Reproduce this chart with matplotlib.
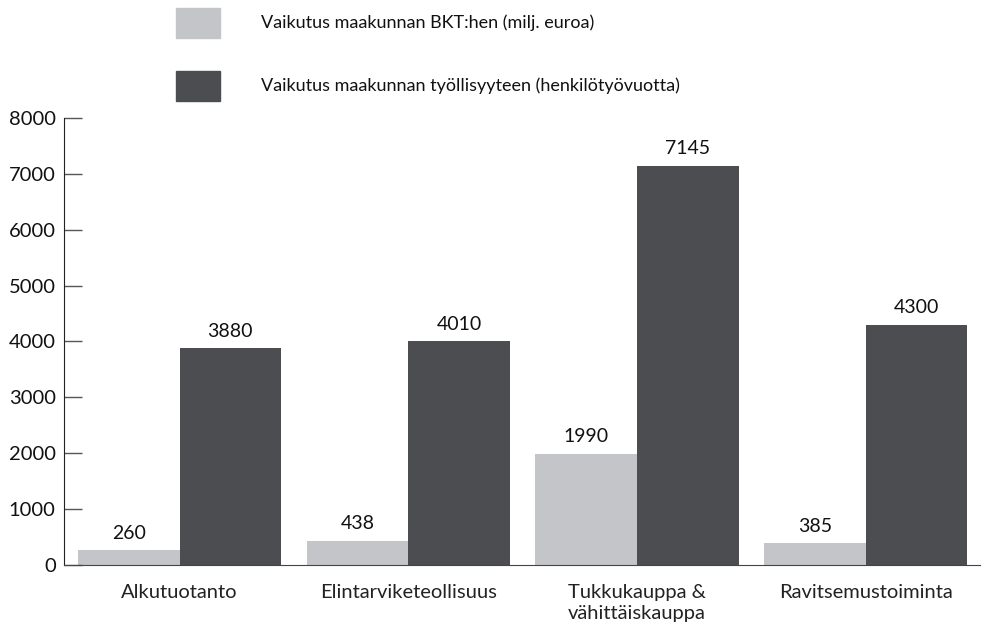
import matplotlib
matplotlib.use("Agg")
import matplotlib.pyplot as plt
import numpy as np
from matplotlib.patches import Rectangle

categories = ["Alkutuotanto", "Elintarviketeollisuus", "Tukkukauppa &\nvähittäiskauppa", "Ravitsemustoiminta"]
bkt = [260, 438, 1990, 385]
tyollisyys = [3880, 4010, 7145, 4300]
series_names = ["Vaikutus maakunnan BKT:hen (milj. euroa)",
                "Vaikutus maakunnan työllisyyteen (henkilötyövuotta)"]
yticks = [0, 1000, 2000, 3000, 4000, 5000, 6000, 7000, 8000]

light = "#c4c5c9"
dark = "#4c4d51"
plt.rcParams['font.family'] = ['Lato', 'DejaVu Sans']

fig = plt.figure(figsize=(9.82, 6.3), dpi=100)
ax = fig.add_axes([0.0652, 0.1032, 0.9328, 0.7095])

x = np.arange(len(categories))
w = 0.444
ax.bar(x - w/2, bkt, w, color=light)
ax.bar(x + w/2, tyollisyys, w, color=dark)
for xi, v in zip(x - w/2, bkt):
    ax.text(xi, v + 150, str(v), ha="center", va="bottom", fontsize=14, color="#111111")
for xi, v in zip(x + w/2, tyollisyys):
    ax.text(xi, v + 150, str(v), ha="center", va="bottom", fontsize=14, color="#111111")

ax.set_xlim(-0.505, 3.500)
ax.set_ylim(0, 8000)
ax.set_yticks(yticks)
ax.set_yticklabels([str(t) for t in yticks], fontsize=14.5, color="#111111")
ax.tick_params(axis="y", direction="in", length=13, width=1, color="#555555", pad=6)
ax.set_xticks(x)
ax.set_xticklabels(categories, fontsize=14.5, linespacing=1.25, color="#222222")
ax.tick_params(axis="x", length=0, pad=14)
for s in ["top", "right"]:
    ax.spines[s].set_visible(False)
ax.spines["left"].set_color("#222222")
ax.spines["bottom"].set_color("#444444")

# legend at top
for i, (name, col) in enumerate(zip(series_names, [light, dark])):
    y0 = 1 - (38 + i * 63) / 630
    fig.add_artist(Rectangle((176 / 982, y0), 44 / 982, 30 / 630, color=col, transform=fig.transFigure))
    fig.text(261 / 982, y0 + 15 / 630, name, fontsize=13, va="center", ha="left", color="#111111")

fig.savefig("out.png", dpi=100)
